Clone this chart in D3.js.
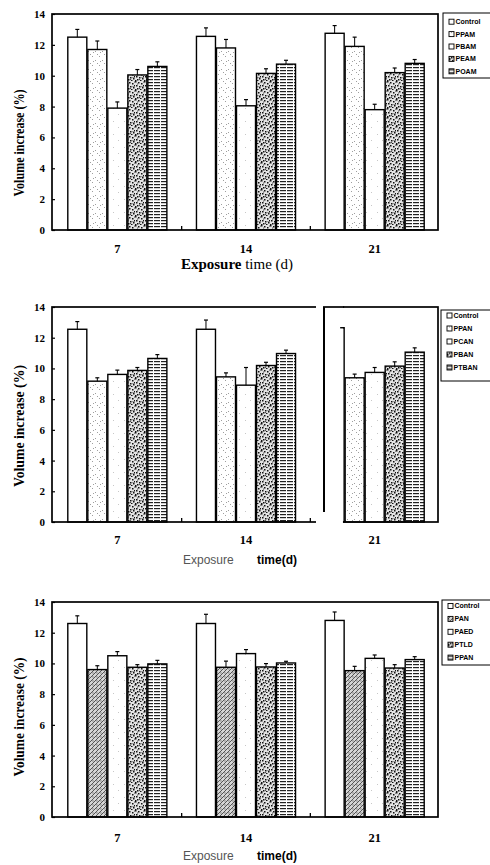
<!DOCTYPE html>
<html>
<head>
<meta charset="utf-8">
<script src="https://cdn.jsdelivr.net/npm/d3@7"></script>
<style>
  body { margin: 0; background: #fff; }
</style>
</head>
<body>
<svg id="chart" width="490" height="865"></svg>
<script>
// exposure days (x categories) and y ticks, shared by all three panels
const days = ["7", "14", "21"];
const yTicks = [0, 2, 4, 6, 8, 10, 12, 14];

// panel 1
const seriesA = ["Control", "PPAM", "PBAM", "PEAM", "POAM"];
const meansA = [
  [12.5, 12.55, 12.75],
  [11.7, 11.8, 11.9],
  [7.9, 8.05, 7.8],
  [10.05, 10.15, 10.2],
  [10.6, 10.75, 10.8]
];
const errsA = [
  [0.5, 0.55, 0.5],
  [0.55, 0.55, 0.6],
  [0.4, 0.4, 0.35],
  [0.35, 0.3, 0.3],
  [0.3, 0.25, 0.25]
];

// panel 2
const seriesB = ["Control", "PPAN", "PCAN", "PBAN", "PTBAN"];
const meansB = [
  [12.55, 12.55, 12.65],
  [9.17, 9.45, 9.39],
  [9.61, 8.91, 9.74],
  [9.87, 10.19, 10.15],
  [10.65, 10.97, 11.06]
];
const errsB = [
  [0.5, 0.6, 0.5],
  [0.22, 0.26, 0.24],
  [0.28, 1.15, 0.32],
  [0.19, 0.21, 0.28],
  [0.25, 0.22, 0.28]
];

// panel 3
const seriesC = ["Control", "PAN", "PAED", "PTLD", "PPAN"];
const meansC = [
  [12.6, 12.6, 12.8],
  [9.6, 9.75, 9.53],
  [10.5, 10.64, 10.33],
  [9.75, 9.77, 9.7],
  [9.97, 10.03, 10.25]
];
const errsC = [
  [0.5, 0.6, 0.55],
  [0.25, 0.4, 0.28],
  [0.27, 0.26, 0.22],
  [0.17, 0.22, 0.22],
  [0.23, 0.11, 0.19]
];

const SERIF = "'Liberation Serif', 'Times New Roman', serif";
const SANS = "'Liberation Sans', Arial, sans-serif";

const svg = d3.select("#chart");
const defs = svg.append("defs");

function makePattern(id, w, h, bg) {
  const p = defs.append("pattern")
    .attr("id", id)
    .attr("width", w).attr("height", h)
    .attr("patternUnits", "userSpaceOnUse");
  p.append("rect").attr("width", w).attr("height", h).attr("fill", bg);
  return p;
}
function specks(p, pts, size, color) {
  pts.forEach(([x, y]) => p.append("rect")
    .attr("x", x).attr("y", y)
    .attr("width", size).attr("height", size)
    .attr("fill", color));
}

// sparse stipple
const dots = makePattern("dots", 7, 9, "#fff");
specks(dots, [[1, 2], [4, 6], [6, 0], [2, 7]], 0.9, "#888");

// very light stipple (almost white)
const faint = makePattern("faint", 11, 13, "#fff");
specks(faint, [[3, 4], [8, 10]], 0.8, "#aaa");

// dense dark speckle
const speckle = makePattern("speckle", 9, 9, "#e4e4e4");
specks(speckle, [[0, 0], [3, 1], [6, 2], [1, 4], [4, 5], [7, 6], [2, 7], [5, 8], [8, 4], [0, 8]], 1.5, "#111");
specks(speckle, [[2, 2.5], [6.5, 5], [4, 7], [8, 0.5]], 1.1, "#555");

// diagonal hatch with speckle
const hatch = makePattern("hatch", 4, 4, "#d6d6d6");
hatch.append("path").attr("d", "M0,4L4,0M-1,1L1,-1M3,5L5,3")
  .attr("stroke", "#333").attr("stroke-width", 0.8);
specks(hatch, [[0.5, 0.5]], 0.9, "#222");

// horizontal stripes
const hlines = makePattern("hlines", 7, 3, "#fff");
hlines.append("rect").attr("y", 1).attr("width", 6).attr("height", 1.2).attr("fill", "#222");

const panels = [
  {
    series: seriesA, means: meansA, errs: errsA,
    fills: ["#fff", "url(#dots)", "url(#faint)", "url(#speckle)", "url(#hlines)"],
    top: 14, bottom: 230,
    legend: { x: 443, y: 13, h: 65, first: 21.7, step: 12.4 },
    title: { cy: 143, len: 107 },
    catY: 253, xTitleY: 269, xTitleSerif: true
  },
  {
    series: seriesB, means: meansB, errs: errsB,
    fills: ["#fff", "url(#dots)", "url(#faint)", "url(#speckle)", "url(#hlines)"],
    top: 307, bottom: 522,
    legend: { x: 441, y: 310, h: 71, first: 315.5, step: 13 },
    title: { cy: 426, len: 122 },
    catY: 544, xTitleY: 564, xTitleSerif: false, split: true
  },
  {
    series: seriesC, means: meansC, errs: errsC,
    fills: ["#fff", "url(#hatch)", "url(#faint)", "url(#speckle)", "url(#hlines)"],
    top: 602, bottom: 817,
    legend: { x: 442, y: 600, h: 65, first: 606, step: 12.9 },
    title: { cy: 717, len: 119 },
    catY: 842, xTitleY: 860, xTitleSerif: false
  }
];

const left = 52, right = 438;

panels.forEach(p => {
  const g = svg.append("g");

  const y = d3.scaleLinear().domain([0, 14]).range([p.bottom, p.top]);
  const x0 = d3.scaleBand().domain(days).range([left + 1, right + 1])
    .paddingInner(0.23).paddingOuter(0.115);
  const x1 = d3.scaleBand().domain(p.series).range([0, x0.bandwidth()])
    .paddingInner(0.05);

  // flatten into bar records
  const bars = [];
  p.series.forEach((s, i) => days.forEach((d, j) => {
    bars.push({ s, d, i, v: p.means[i][j], e: p.errs[i][j] });
  }));

  g.selectAll("rect.bar").data(bars).join("rect")
    .attr("class", "bar")
    .attr("x", b => x0(b.d) + x1(b.s))
    .attr("y", b => y(b.v))
    .attr("width", x1.bandwidth())
    .attr("height", b => y(0) - y(b.v))
    .attr("fill", b => p.fills[b.i])
    .attr("stroke", "#000")
    .attr("stroke-width", 1.4);

  // upper error bars
  const eb = g.selectAll("g.err").data(bars).join("g").attr("class", "err")
    .attr("transform", b => `translate(${x0(b.d) + x1(b.s) + x1.bandwidth() / 2},0)`);
  eb.append("line")
    .attr("y1", b => y(b.v)).attr("y2", b => y(b.v + b.e))
    .attr("stroke", "#000").attr("stroke-width", 1);
  eb.append("line")
    .attr("x1", -2).attr("x2", 2)
    .attr("y1", b => y(b.v + b.e)).attr("y2", b => y(b.v + b.e))
    .attr("stroke", "#000").attr("stroke-width", 1.2);

  // y axis: inward ticks + labels
  const yAxis = d3.axisLeft(y).tickValues(yTicks).tickSize(-3).tickSizeOuter(0).tickPadding(7);
  const ya = g.append("g").attr("transform", `translate(${left},0)`).call(yAxis);
  ya.select(".domain").remove();
  ya.selectAll(".tick line").attr("stroke", "#000").attr("stroke-width", 1.2);
  ya.selectAll(".tick text")
    .attr("font-family", SERIF).attr("font-weight", "bold")
    .attr("font-size", 11).attr("fill", "#000");

  // frame
  g.append("rect")
    .attr("x", left).attr("y", p.top)
    .attr("width", right - left).attr("height", p.bottom - p.top)
    .attr("fill", "none").attr("stroke", "#000").attr("stroke-width", 1.7);

  // small ticks between groups on the x axis
  const step = x0.step();
  g.selectAll("line.sep").data(days.slice(0, 2)).join("line")
    .attr("class", "sep")
    .attr("x1", d => x0(d) + x0.bandwidth() + step * 0.115)
    .attr("x2", d => x0(d) + x0.bandwidth() + step * 0.115)
    .attr("y1", p.bottom).attr("y2", p.bottom - 4)
    .attr("stroke", "#000").attr("stroke-width", 1.3);

  // panel 2: cut-and-pasted third group
  if (p.split) {
    const ctrlRight = x0("21") + x1("Control") + x1.bandwidth();
    g.append("rect")
      .attr("x", 316).attr("y", p.top - 2)
      .attr("width", ctrlRight - 1.2 - 316).attr("height", p.bottom - p.top + 6)
      .attr("fill", "#fff");
    g.append("line")
      .attr("x1", 323).attr("x2", ctrlRight)
      .attr("y1", p.top).attr("y2", p.top)
      .attr("stroke", "#000").attr("stroke-width", 1.7);
    g.append("line")
      .attr("x1", 324).attr("x2", 324)
      .attr("y1", p.top).attr("y2", p.bottom - 10)
      .attr("stroke", "#000").attr("stroke-width", 2);
    g.append("line")
      .attr("x1", ctrlRight - 4).attr("x2", ctrlRight)
      .attr("y1", y(p.means[0][2])).attr("y2", y(p.means[0][2]))
      .attr("stroke", "#000").attr("stroke-width", 1.4);
  }

  // category labels
  g.selectAll("text.cat").data(days).join("text")
    .attr("class", "cat")
    .attr("x", d => x0(d) + x0.bandwidth() / 2)
    .attr("y", p.catY)
    .attr("text-anchor", "middle")
    .attr("font-family", SERIF).attr("font-weight", "bold").attr("font-size", 12.5)
    .text(d => d);

  // x title
  if (p.xTitleSerif) {
    const t = g.append("text")
      .attr("x", 237).attr("y", p.xTitleY)
      .attr("text-anchor", "middle")
      .attr("font-family", SERIF).attr("font-size", 15);
    t.append("tspan").attr("font-weight", "bold").text("Exposure");
    t.append("tspan").text(" time (d)");
  } else {
    g.append("text")
      .attr("x", 183).attr("y", p.xTitleY)
      .attr("font-family", SANS).attr("font-size", 12).attr("fill", "#555")
      .text("Exposure");
    g.append("text")
      .attr("x", 257).attr("y", p.xTitleY)
      .attr("font-family", SANS).attr("font-size", 12).attr("font-weight", "bold")
      .text("time(d)");
  }

  // y title
  g.append("text")
    .attr("transform", `translate(24,${p.title.cy}) rotate(-90)`)
    .attr("text-anchor", "middle")
    .attr("font-family", SERIF).attr("font-weight", "bold").attr("font-size", 15)
    .attr("textLength", p.title.len).attr("lengthAdjust", "spacingAndGlyphs")
    .text("Volume increase (%)");

  // legend
  const L = p.legend;
  g.append("rect")
    .attr("x", L.x).attr("y", L.y).attr("width", 60).attr("height", L.h)
    .attr("fill", "#fff").attr("stroke", "#000").attr("stroke-width", 1);
  const li = g.selectAll("g.leg").data(p.series).join("g").attr("class", "leg")
    .attr("transform", (s, i) => `translate(${L.x + 6},${L.first + i * L.step})`);
  li.append("rect")
    .attr("x", 0).attr("y", -2.5).attr("width", 5).attr("height", 5)
    .attr("fill", (s, i) => p.fills[i]).attr("stroke", "#000").attr("stroke-width", 0.9);
  li.append("text")
    .attr("x", 6.5).attr("y", 2.4)
    .attr("font-family", SANS).attr("font-weight", "bold").attr("font-size", 7)
    .text(s => s);
});
</script>
</body>
</html>
